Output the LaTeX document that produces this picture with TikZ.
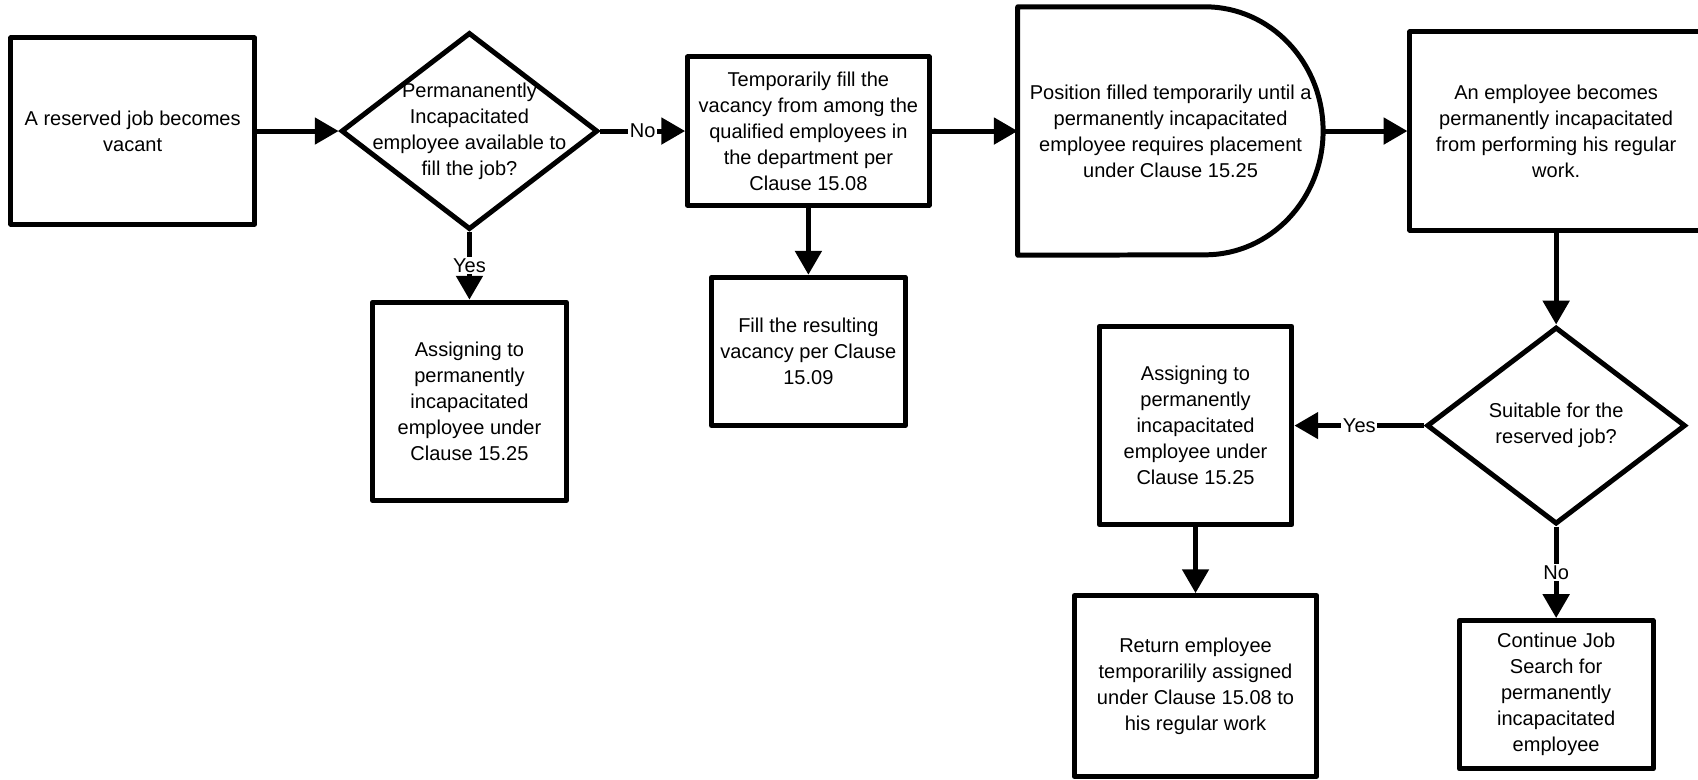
\documentclass[tikz,border=0pt]{standalone}
\usepackage{fontspec}
\setmainfont{Liberation Sans}
\usetikzlibrary{shapes.geometric,arrows.meta}
\begin{document}
\begin{tikzpicture}[x=1pt,y=1pt,
  every node/.style={font=\fontsize{18.5}{24}\selectfont, align=center},
  box/.style={draw, line width=4.6pt, line join=round, rectangle, inner sep=0pt},
  decision/.style={draw, line width=4.6pt, line join=miter, diamond, inner sep=0pt},
  flow/.style={line width=4.6pt, -{Triangle[length=22pt,width=24pt]}},
  lbl/.style={fill=white, inner sep=1.5pt}
]
\useasboundingbox (0,0) rectangle (1568,-720);

% top row
\node[box, minimum width=225pt, minimum height=172pt] (a) at (122.5,-121)
  {A reserved job becomes\\vacant};
\node[decision, minimum width=237pt, minimum height=182pt] (d1) at (433.5,-121) {};
\node (d1t) at (d1) {Permananently\\Incapacitated\\employee available to\\fill the job?};
\node[box, minimum width=223pt, minimum height=137pt] (b) at (746.5,-121)
  {Temporarily fill the\\vacancy from among the\\qualified employees in\\the department per\\Clause 15.08};

% delay shape: flat left side, half-ellipse on the right
\node[minimum width=282pt, minimum height=229pt, inner sep=0pt] (c) at (1081,-121)
  {Position filled temporarily until a\\permanently incapacitated\\employee requires placement\\under Clause 15.25};
\draw[line width=4.6pt, line join=round] (c.south west) -- (c.north west) -- ++(173,0)
  arc[start angle=90, end angle=-90, x radius=109, y radius=114.5] -- cycle;

\node[box, minimum width=270pt, minimum height=183pt] (e) at (1437,-121)
  {An employee becomes\\permanently incapacitated\\from performing his regular\\work.};

% lower left
\node[box, minimum width=179pt, minimum height=183pt] (i) at (433.5,-370.5)
  {Assigning to\\permanently\\incapacitated\\employee under\\Clause 15.25};
\node[box, minimum width=179pt, minimum height=137pt] (j) at (746.5,-324.5)
  {Fill the resulting\\vacancy per Clause\\15.09};

% lower right
\node[decision, minimum width=239pt, minimum height=182pt] (d2) at (1437,-393) {};
\node (d2t) at (d2) {Suitable for the\\reserved job?};
\node[box, minimum width=178pt, minimum height=183pt] (f) at (1104,-393)
  {Assigning to\\permanently\\incapacitated\\employee under\\Clause 15.25};
\node[box, minimum width=224pt, minimum height=167pt] (g) at (1104,-633.5)
  {Return employee\\temporarilily assigned\\under Clause 15.08 to\\his regular work};
\node[box, minimum width=179pt, minimum height=137pt] (h) at (1437,-641.5)
  {Continue Job\\Search for\\permanently\\incapacitated\\employee};

% connectors
\draw[flow] (a) -- (d1);
\draw[flow] (d1) -- node[lbl] {No} (b);
\draw[flow] (d1) -- node[lbl] {Yes} (i);
\draw[flow] (b) -- (j);
\draw[flow] (b) -- (c);
\draw[flow] (c.east) -- (e);
\draw[flow] (e) -- (d2);
\draw[flow] (d2) -- node[lbl] {Yes} (f);
\draw[flow] (d2) -- node[lbl] {No} (h);
\draw[flow] (f) -- (g);
\end{tikzpicture}
\end{document}
